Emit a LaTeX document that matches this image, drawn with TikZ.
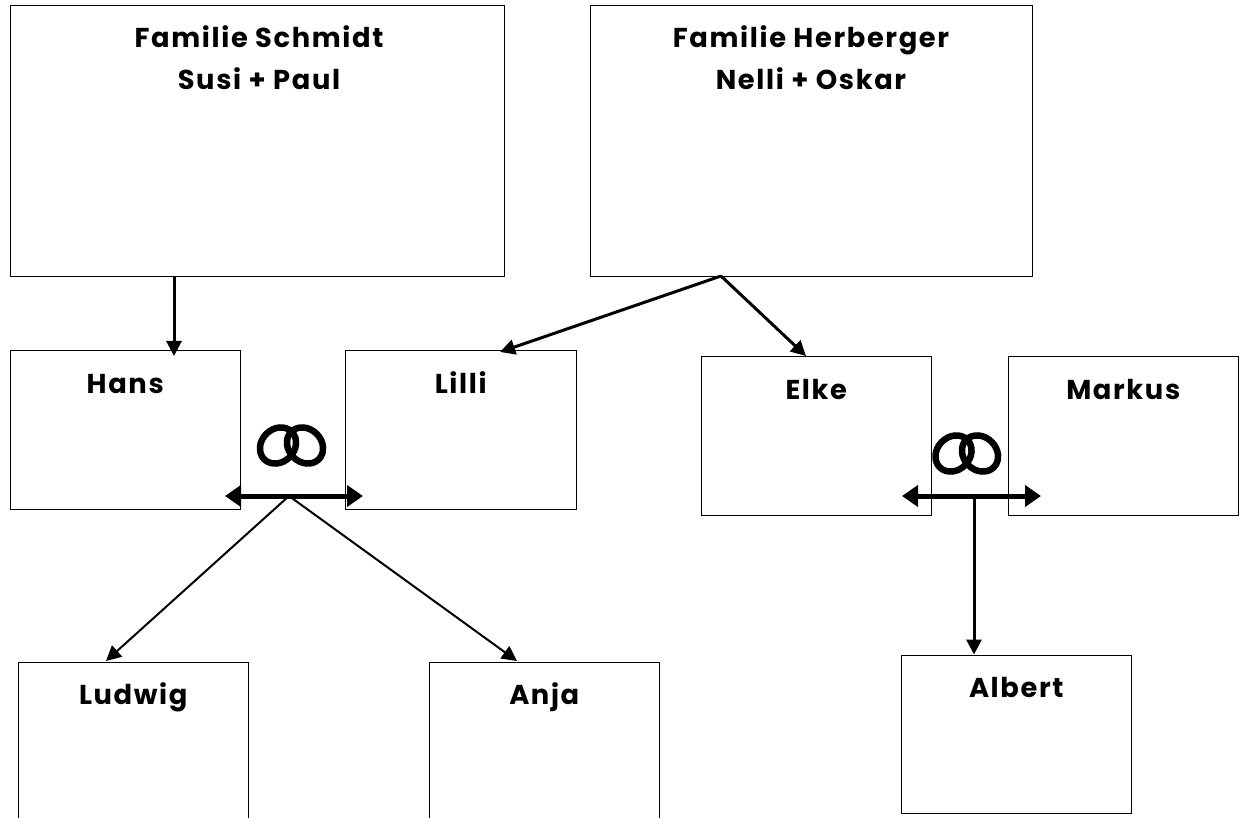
\documentclass[tikz,border=0pt]{standalone}
\usepackage{fontspec}
\setmainfont{Poppins}[LetterSpace=6]
\usetikzlibrary{arrows.meta,shapes.geometric}
\tikzset{
  person/.style={draw, line width=1pt, anchor=north west, minimum width=230.5pt, minimum height=158pt, inner sep=0pt},
  family/.style={draw, line width=1pt, anchor=north west, minimum height=271pt, inner sep=0pt},
  nametext/.style={anchor=north, align=center, font=\bfseries\fontsize{27.3}{42}\selectfont, inner sep=0pt},
  persontext/.style={nametext, text height=21pt, text depth=6pt, yshift=-22pt},
  ringleft/.style={draw, ellipse, line width=6.5pt, minimum width=39pt, minimum height=33pt, inner sep=0pt, rotate=45},
  ringright/.style={ringleft, rotate=-90},
  parent/.style={-{Triangle[length=15pt,width=15pt]}, line width=3pt},
  child/.style={-{Triangle[length=15pt,width=15pt]}, line width=2pt},
  marriage/.style={{Triangle[length=16pt,width=21pt]}-{Triangle[length=16pt,width=21pt]}, line width=5pt},
}
\begin{document}
\begin{tikzpicture}[x=1pt, y=-1pt]
  \useasboundingbox (0,0) rectangle (1240,818);
  \node[family, minimum width=494pt] (schmidt) at (9.5,5.5) {};
  \node[nametext] (schmidttext) at (259,25) {Familie Schmidt\\Susi + Paul};
  \node[family, minimum width=442pt] (herberger) at (589.5,5.5) {};
  \node[nametext] (herbergertext) at (811,25) {Familie Herberger\\Nelli + Oskar};
  \node[person, label={[persontext]north:Hans}] (hans) at (9.5,350.5) {};
  \node[person, label={[persontext]north:Lilli}] (lilli) at (345,350.5) {};
  \node[person, label={[persontext]north:Elke}] (elke) at (700.5,356.5) {};
  \node[person, label={[persontext]north:Markus}] (markus) at (1007.5,356.5) {};
  \node[person, label={[persontext]north:Ludwig}] (ludwig) at (17.5,661.5) {};
  \node[person, label={[persontext]north:Anja}] (anja) at (428.5,661.5) {};
  \node[person, label={[persontext]north:Albert}] (albert) at (900.5,654.5) {};
  % rings
  \node[ringleft] (ringa) at (278,445.5) {};
  \node[ringright] (ringb) at (305,445.5) {};
  \node[ringleft] (ringc) at (953.5,453.5) {};
  \node[ringright] (ringd) at (980,453.5) {};
  % connectors
  \coordinate (schmidtout) at (174,276);
  \coordinate (herbout) at (721,276);
  \coordinate (lilliin) at (500,352);
  \coordinate (elkein) at (806,356);
  \coordinate (ludwigin) at (106,661);
  \coordinate (anjain) at (517,661);
  \coordinate (hansend) at (225,496);
  \coordinate (lilliend) at (363,496);
  \coordinate (elkeend) at (902,496);
  \coordinate (markusend) at (1041,496);
  \coordinate (leftjoin) at (289,496);
  \coordinate (rightjoin) at (974,496);
  \draw[parent] (schmidtout) -- (174,356);
  \draw[parent] (herbout) -- (lilliin);
  \draw[parent] (herbout) -- (elkein);
  \draw[marriage] (hansend) -- (lilliend);
  \draw[marriage] (elkeend) -- (markusend);
  \draw[child] (leftjoin) -- (ludwigin);
  \draw[child] (leftjoin) -- (anjain);
  \draw[parent] (rightjoin) -- (rightjoin |- albert.north);
\end{tikzpicture}
\end{document}
